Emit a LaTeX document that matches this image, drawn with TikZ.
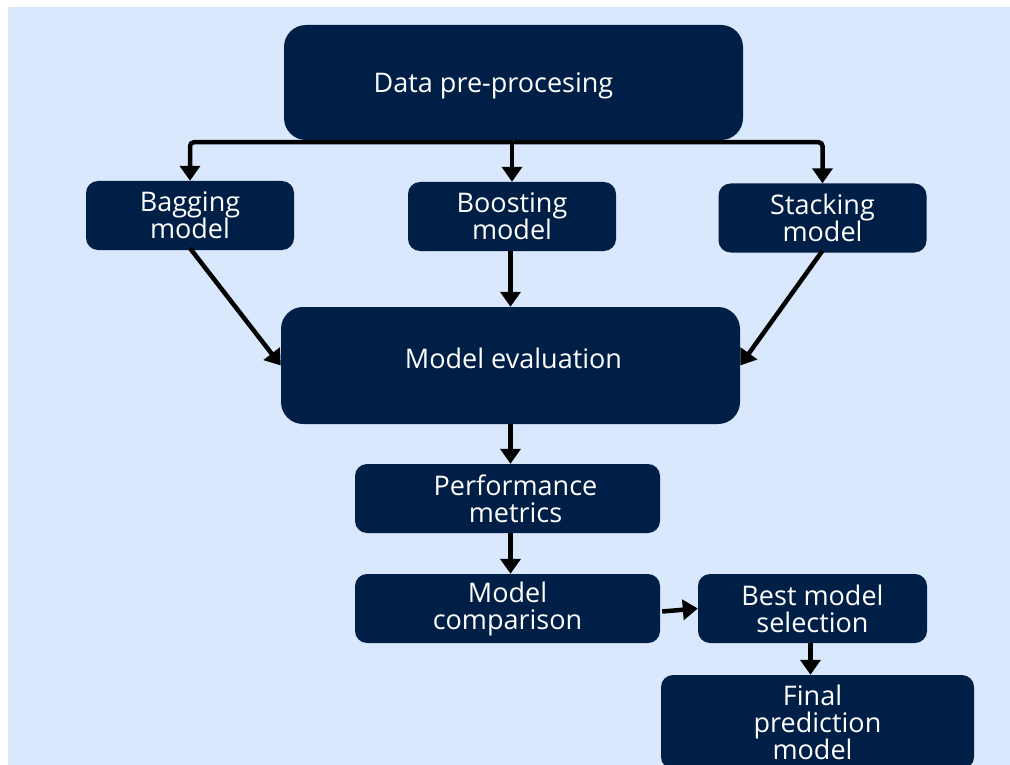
\documentclass[tikz,border=0pt]{standalone}
\usepackage{fontspec}
\setmainfont{Open Sans}
\usetikzlibrary{arrows.meta}

\definecolor{pagebg}{HTML}{DAE8FD}
\definecolor{boxblue}{HTML}{001F47}

\begin{document}
\begin{tikzpicture}[x=1pt, y=-1pt,
        stage/.style={fill=boxblue, text=white, rounded corners=12pt, align=center,
            inner sep=0pt, font=\fontsize{27}{27}\selectfont},
        bigstage/.style={stage, rounded corners=22pt},
        arr/.style={line width=4.5pt, -{Triangle[width=20pt, length=15pt]}},
    ]

        \useasboundingbox (0,0) rectangle (1010,765);
        \fill[pagebg] (8,7) rectangle (1010,765);

        \begin{scope}
        \clip (8,7) rectangle (1010,765);
        \node (data) [bigstage, minimum width=459pt, minimum height=115pt, text depth=0pt] at (513.5,82.5) {Data pre-procesing\hspace*{40pt}};

        \foreach \n/\x/\y/\t in {%
            bag/190/215.5/Bagging,
            boost/512/216.5/Boosting,
            stack/822.5/218/Stacking%
        }{
            \node (\n) [stage, minimum width=208pt, minimum height=69pt] at (\x,\y) {\t\\model};
        }

        \node (eval) [bigstage, minimum width=459pt, minimum height=117pt, text depth=14pt] at (510.5,365.5) {\hspace*{6pt}Model evaluation};
        \node (perf) [stage, minimum width=305pt, minimum height=69pt] at (507.5,498.5) {\hspace*{16pt}Performance\\\hspace*{16pt}metrics};
        \node (comp) [stage, minimum width=305pt, minimum height=69pt] at (507.5,608.5) {Model\\comparison};
        \node (best) [stage, minimum width=229pt, minimum height=69pt] at (812.5,608.5) {Best model\\selection};
        \node (final) [stage, minimum width=313pt, minimum height=94pt] at (817.5,722) {Final\hspace*{10pt}\\prediction\hspace*{10pt}\\model\hspace*{10pt}};
        \end{scope}

        % arrows
        \draw[arr, rounded corners=4pt] ([yshift=-2pt]data.south) -| (bag.north);
        \draw[arr, rounded corners=4pt] ([yshift=-2pt]data.south) -| (stack.north);
        \draw[arr] ([yshift=-2pt]data.south -| boost.north) -- (boost.north);
        \draw[arr] ([yshift=2pt]bag.south) -- (eval.west);
        \draw[arr] ([yshift=2pt]stack.south) -- (eval.east);
        \draw[arr] (boost.south -| eval.north) -- (eval.north);
        \draw[arr] (eval.south) -- (eval.south |- perf.north);
        \draw[arr] (perf.south -| eval.south) -- (comp.north -| eval.south);
        \draw[arr] ([xshift=2pt, yshift=-3pt]comp.east) -- (best.west);
        \draw[arr] ([xshift=-2pt]best.south) -- ([xshift=-2pt]best.south |- final.north);

    \end{tikzpicture}
\end{document}
